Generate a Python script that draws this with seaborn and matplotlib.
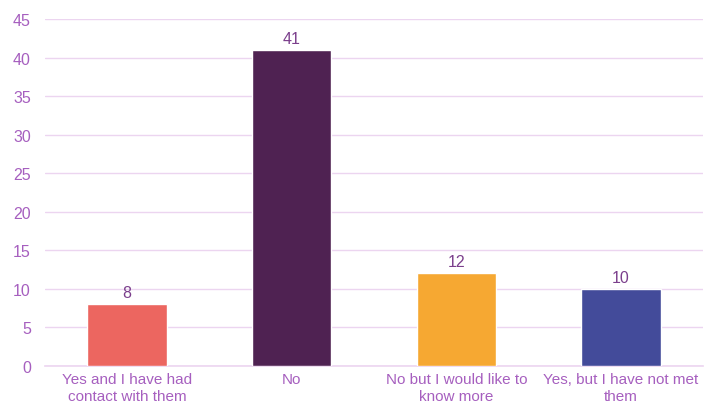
import matplotlib
matplotlib.use("Agg")
import matplotlib.pyplot as plt
import seaborn as sns
import pandas as pd

categories = ["Yes and I have had\ncontact with them", "No", "No but I would like to\nknow more", "Yes, but I have not met\nthem"]
values = [8, 41, 12, 10]
colors = ["#ec6660", "#4f2252", "#f6a832", "#434b9a"]

sns.set_theme(style="white")
plt.rcParams["font.family"] = ["Liberation Sans", "DejaVu Sans"]

fig = plt.figure(figsize=(7.09, 4.10), dpi=100)
ax = fig.add_axes([0.063, 0.105, 0.929, 0.846])

df = pd.DataFrame({"cat": categories, "val": values})
sns.barplot(data=df, x="cat", y="val", hue="cat", palette=colors, width=0.48,
            saturation=1, legend=False, ax=ax, zorder=3)

tick_color = "#a65fbf"
label_color = "#7b3f8c"
grid_color = "#ecd5f0"

ax.set_ylim(0, 45)
ax.set_yticks(range(0, 46, 5))
ax.set_xlim(-0.5, 3.5)
ax.yaxis.grid(True, color=grid_color, linewidth=1.0, zorder=0)
ax.set_axisbelow(True)
for s in ["top", "right", "left"]:
    ax.spines[s].set_visible(False)
ax.spines["bottom"].set_color(grid_color)
ax.spines["bottom"].set_linewidth(1.2)

ax.tick_params(axis="y", length=0, labelsize=11.5, labelcolor=tick_color, pad=10)
ax.tick_params(axis="x", which="major", length=0, labelsize=11, labelcolor=tick_color, pad=4)
ax.set_xticks([-0.5, 0.5, 1.5, 2.5, 3.5], minor=True)
ax.tick_params(axis="x", which="minor", length=5, color=grid_color, width=1.2)
ax.set_xlabel("")
ax.set_ylabel("")
for lbl in ax.get_xticklabels():
    lbl.set_linespacing(1.3)

for c in ax.containers:
    ax.bar_label(c, padding=3, fontsize=11.5, color=label_color)

fig.savefig("out.png", dpi=100)
